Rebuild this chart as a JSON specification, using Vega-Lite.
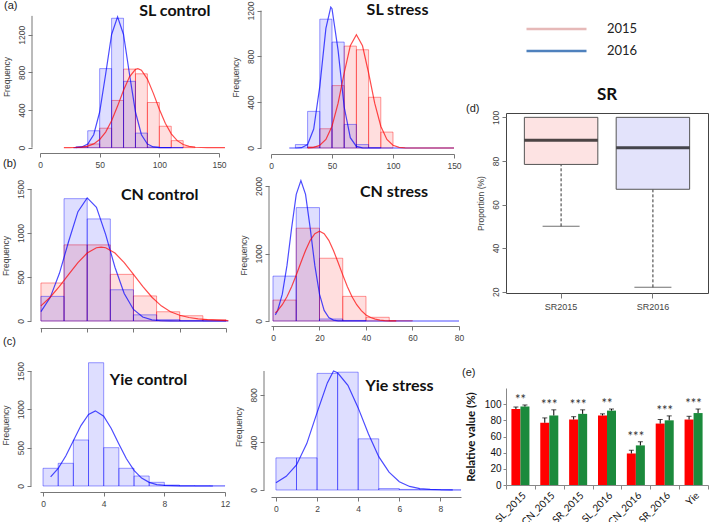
{
"$schema": "https://vega.github.io/schema/vega-lite/v6.json",
"padding": {"left": 0, "top": 0, "right": 0, "bottom": 0},
"background": "white",
"config": {
 "numberFormat": "d",
 "view": {"stroke": null},
 "axis": {"grid": false, "domainColor": "#777", "tickColor": "#777", "labelColor": "#444", "labelFont": "Liberation Sans", "labelFontSize": 8.5, "titleFont": "Liberation Sans", "titleFontSize": 8.5, "titleFontWeight": "normal", "titleColor": "#444", "tickSize": 4, "labelFlush": false, "labelOverlap": false},
 "axisX": {"labelPadding": 3},
 "axisY": {"domain": false, "labelPadding": 2, "titlePadding": 6},
 "title": {"font": "Liberation Sans", "fontSize": 11, "fontWeight": "normal", "color": "#222", "anchor": "start", "frame": "group", "baseline": "alphabetic"},
 "text": {"font": "Lato", "fontWeight": "bold", "fontSize": 16, "color": "#111", "align": "center", "baseline": "middle"},
 "rule": {"color": "#777"}
},
"datasets": {
 "hist": [
  {"p":"A1","yr":"2015","x0":30,"x1":40,"n":5},{"p":"A1","yr":"2015","x0":40,"x1":50,"n":40},{"p":"A1","yr":"2015","x0":50,"x1":60,"n":207},{"p":"A1","yr":"2015","x0":60,"x1":70,"n":502},{"p":"A1","yr":"2015","x0":70,"x1":80,"n":835},{"p":"A1","yr":"2015","x0":80,"x1":90,"n":785},{"p":"A1","yr":"2015","x0":90,"x1":100,"n":480},{"p":"A1","yr":"2015","x0":100,"x1":110,"n":228},{"p":"A1","yr":"2015","x0":110,"x1":120,"n":75},{"p":"A1","yr":"2015","x0":120,"x1":130,"n":8},
  {"p":"A1","yr":"2016","x0":30,"x1":40,"n":10},{"p":"A1","yr":"2016","x0":40,"x1":50,"n":180},{"p":"A1","yr":"2016","x0":50,"x1":60,"n":840},{"p":"A1","yr":"2016","x0":60,"x1":70,"n":1375},{"p":"A1","yr":"2016","x0":70,"x1":80,"n":705},{"p":"A1","yr":"2016","x0":80,"x1":90,"n":155},{"p":"A1","yr":"2016","x0":90,"x1":100,"n":8},{"p":"A1","yr":"2016","x0":100,"x1":110,"n":2},
  {"p":"A2","yr":"2015","x0":30,"x1":40,"n":10},{"p":"A2","yr":"2015","x0":40,"x1":50,"n":168},{"p":"A2","yr":"2015","x0":50,"x1":60,"n":545},{"p":"A2","yr":"2015","x0":60,"x1":70,"n":890},{"p":"A2","yr":"2015","x0":70,"x1":80,"n":858},{"p":"A2","yr":"2015","x0":80,"x1":90,"n":443},{"p":"A2","yr":"2015","x0":90,"x1":100,"n":139},
  {"p":"A2","yr":"2016","x0":20,"x1":30,"n":30},{"p":"A2","yr":"2016","x0":30,"x1":40,"n":320},{"p":"A2","yr":"2016","x0":40,"x1":50,"n":1125},{"p":"A2","yr":"2016","x0":50,"x1":60,"n":925},{"p":"A2","yr":"2016","x0":60,"x1":70,"n":206},{"p":"A2","yr":"2016","x0":70,"x1":80,"n":30},{"p":"A2","yr":"2016","x0":80,"x1":90,"n":3},
  {"p":"B1","yr":"2015","x0":0,"x1":5,"n":432},{"p":"B1","yr":"2015","x0":5,"x1":10,"n":865},{"p":"B1","yr":"2015","x0":10,"x1":15,"n":865},{"p":"B1","yr":"2015","x0":15,"x1":20,"n":530},{"p":"B1","yr":"2015","x0":20,"x1":25,"n":285},{"p":"B1","yr":"2015","x0":25,"x1":30,"n":105},{"p":"B1","yr":"2015","x0":30,"x1":35,"n":60},{"p":"B1","yr":"2015","x0":35,"x1":40,"n":15},
  {"p":"B1","yr":"2016","x0":0,"x1":5,"n":280},{"p":"B1","yr":"2016","x0":5,"x1":10,"n":1390},{"p":"B1","yr":"2016","x0":10,"x1":15,"n":1160},{"p":"B1","yr":"2016","x0":15,"x1":20,"n":355},{"p":"B1","yr":"2016","x0":20,"x1":25,"n":70},{"p":"B1","yr":"2016","x0":25,"x1":30,"n":15},{"p":"B1","yr":"2016","x0":30,"x1":35,"n":5},{"p":"B1","yr":"2016","x0":35,"x1":40,"n":2},
  {"p":"B2","yr":"2015","x0":0,"x1":10,"n":310},{"p":"B2","yr":"2015","x0":10,"x1":20,"n":1375},{"p":"B2","yr":"2015","x0":20,"x1":30,"n":930},{"p":"B2","yr":"2015","x0":30,"x1":40,"n":365},{"p":"B2","yr":"2015","x0":40,"x1":50,"n":55},{"p":"B2","yr":"2015","x0":50,"x1":60,"n":5},
  {"p":"B2","yr":"2016","x0":0,"x1":10,"n":665},{"p":"B2","yr":"2016","x0":10,"x1":20,"n":1680},{"p":"B2","yr":"2016","x0":20,"x1":30,"n":30},{"p":"B2","yr":"2016","x0":30,"x1":40,"n":8},
  {"p":"C1","yr":"2016","x0":0,"x1":1,"n":231},{"p":"C1","yr":"2016","x0":1,"x1":2,"n":296},{"p":"C1","yr":"2016","x0":2,"x1":3,"n":600},{"p":"C1","yr":"2016","x0":3,"x1":4,"n":1608},{"p":"C1","yr":"2016","x0":4,"x1":5,"n":500},{"p":"C1","yr":"2016","x0":5,"x1":6,"n":231},{"p":"C1","yr":"2016","x0":6,"x1":7,"n":130},{"p":"C1","yr":"2016","x0":7,"x1":8,"n":48},{"p":"C1","yr":"2016","x0":8,"x1":9,"n":12},{"p":"C1","yr":"2016","x0":9,"x1":10,"n":5},{"p":"C1","yr":"2016","x0":10,"x1":11,"n":3},{"p":"C1","yr":"2016","x0":11,"x1":12,"n":2},
  {"p":"C2","yr":"2016","x0":0,"x1":1,"n":270},{"p":"C2","yr":"2016","x0":1,"x1":2,"n":270},{"p":"C2","yr":"2016","x0":2,"x1":3,"n":980},{"p":"C2","yr":"2016","x0":3,"x1":4,"n":990},{"p":"C2","yr":"2016","x0":4,"x1":5,"n":430},{"p":"C2","yr":"2016","x0":5,"x1":6,"n":12},{"p":"C2","yr":"2016","x0":6,"x1":7,"n":5},{"p":"C2","yr":"2016","x0":7,"x1":8,"n":3},{"p":"C2","yr":"2016","x0":8,"x1":9,"n":1}
 ],
 "curves": [
  {"p":"A1","yr":"2016","x":28,"y":0},{"p":"A1","yr":"2016","x":30,"y":1},{"p":"A1","yr":"2016","x":35,"y":8},{"p":"A1","yr":"2016","x":40,"y":38},{"p":"A1","yr":"2016","x":45,"y":138},{"p":"A1","yr":"2016","x":50,"y":379},{"p":"A1","yr":"2016","x":55,"y":780},{"p":"A1","yr":"2016","x":60,"y":1203},{"p":"A1","yr":"2016","x":65,"y":1390},{"p":"A1","yr":"2016","x":70,"y":1203},{"p":"A1","yr":"2016","x":75,"y":780},{"p":"A1","yr":"2016","x":80,"y":379},{"p":"A1","yr":"2016","x":85,"y":138},{"p":"A1","yr":"2016","x":90,"y":38},{"p":"A1","yr":"2016","x":95,"y":8},{"p":"A1","yr":"2016","x":100,"y":1},{"p":"A1","yr":"2016","x":110,"y":0},{"p":"A1","yr":"2016","x":120,"y":0},
  {"p":"A1","yr":"2015","x":20,"y":0},{"p":"A1","yr":"2015","x":25,"y":1},{"p":"A1","yr":"2015","x":30,"y":2},{"p":"A1","yr":"2015","x":35,"y":6},{"p":"A1","yr":"2015","x":40,"y":17},{"p":"A1","yr":"2015","x":45,"y":40},{"p":"A1","yr":"2015","x":50,"y":86},{"p":"A1","yr":"2015","x":55,"y":166},{"p":"A1","yr":"2015","x":60,"y":286},{"p":"A1","yr":"2015","x":65,"y":442},{"p":"A1","yr":"2015","x":70,"y":610},{"p":"A1","yr":"2015","x":75,"y":753},{"p":"A1","yr":"2015","x":80,"y":832},{"p":"A1","yr":"2015","x":82,"y":840},{"p":"A1","yr":"2015","x":85,"y":823},{"p":"A1","yr":"2015","x":90,"y":729},{"p":"A1","yr":"2015","x":95,"y":577},{"p":"A1","yr":"2015","x":100,"y":409},{"p":"A1","yr":"2015","x":105,"y":259},{"p":"A1","yr":"2015","x":110,"y":147},{"p":"A1","yr":"2015","x":115,"y":75},{"p":"A1","yr":"2015","x":120,"y":34},{"p":"A1","yr":"2015","x":125,"y":14},{"p":"A1","yr":"2015","x":130,"y":5},{"p":"A1","yr":"2015","x":135,"y":2},{"p":"A1","yr":"2015","x":140,"y":0},{"p":"A1","yr":"2015","x":155,"y":0},
  {"p":"A2","yr":"2016","x":15,"y":0},{"p":"A2","yr":"2016","x":20,"y":0},{"p":"A2","yr":"2016","x":25,"y":3},{"p":"A2","yr":"2016","x":30,"y":31},{"p":"A2","yr":"2016","x":35,"y":166},{"p":"A2","yr":"2016","x":40,"y":538},{"p":"A2","yr":"2016","x":45,"y":1045},{"p":"A2","yr":"2016","x":49,"y":1230},{"p":"A2","yr":"2016","x":50,"y":1217},{"p":"A2","yr":"2016","x":55,"y":852},{"p":"A2","yr":"2016","x":60,"y":358},{"p":"A2","yr":"2016","x":65,"y":90},{"p":"A2","yr":"2016","x":70,"y":14},{"p":"A2","yr":"2016","x":75,"y":1},{"p":"A2","yr":"2016","x":80,"y":0},{"p":"A2","yr":"2016","x":150,"y":0},
  {"p":"A2","yr":"2015","x":30,"y":1},{"p":"A2","yr":"2015","x":35,"y":6},{"p":"A2","yr":"2015","x":40,"y":24},{"p":"A2","yr":"2015","x":45,"y":75},{"p":"A2","yr":"2015","x":50,"y":190},{"p":"A2","yr":"2015","x":55,"y":391},{"p":"A2","yr":"2015","x":60,"y":655},{"p":"A2","yr":"2015","x":65,"y":893},{"p":"A2","yr":"2015","x":70,"y":990},{"p":"A2","yr":"2015","x":75,"y":893},{"p":"A2","yr":"2015","x":80,"y":655},{"p":"A2","yr":"2015","x":85,"y":391},{"p":"A2","yr":"2015","x":90,"y":190},{"p":"A2","yr":"2015","x":95,"y":75},{"p":"A2","yr":"2015","x":100,"y":24},{"p":"A2","yr":"2015","x":105,"y":6},{"p":"A2","yr":"2015","x":110,"y":1},{"p":"A2","yr":"2015","x":120,"y":0},{"p":"A2","yr":"2015","x":150,"y":0},
  {"p":"B1","yr":"2016","x":0,"y":107},{"p":"B1","yr":"2016","x":2,"y":266},{"p":"B1","yr":"2016","x":4,"y":542},{"p":"B1","yr":"2016","x":6,"y":906},{"p":"B1","yr":"2016","x":8,"y":1242},{"p":"B1","yr":"2016","x":10,"y":1399},{"p":"B1","yr":"2016","x":12,"y":1292},{"p":"B1","yr":"2016","x":14,"y":981},{"p":"B1","yr":"2016","x":16,"y":611},{"p":"B1","yr":"2016","x":18,"y":312},{"p":"B1","yr":"2016","x":20,"y":131},{"p":"B1","yr":"2016","x":22,"y":45},{"p":"B1","yr":"2016","x":24,"y":13},{"p":"B1","yr":"2016","x":26,"y":3},{"p":"B1","yr":"2016","x":28,"y":1},{"p":"B1","yr":"2016","x":30,"y":0},{"p":"B1","yr":"2016","x":40.5,"y":0},
  {"p":"B1","yr":"2015","x":0,"y":172},{"p":"B1","yr":"2015","x":2,"y":270},{"p":"B1","yr":"2015","x":4,"y":393},{"p":"B1","yr":"2015","x":6,"y":530},{"p":"B1","yr":"2015","x":8,"y":664},{"p":"B1","yr":"2015","x":10,"y":772},{"p":"B1","yr":"2015","x":12,"y":832},{"p":"B1","yr":"2015","x":13,"y":840},{"p":"B1","yr":"2015","x":14,"y":832},{"p":"B1","yr":"2015","x":16,"y":772},{"p":"B1","yr":"2015","x":18,"y":664},{"p":"B1","yr":"2015","x":20,"y":530},{"p":"B1","yr":"2015","x":22,"y":393},{"p":"B1","yr":"2015","x":24,"y":270},{"p":"B1","yr":"2015","x":26,"y":172},{"p":"B1","yr":"2015","x":28,"y":105},{"p":"B1","yr":"2015","x":30,"y":65},{"p":"B1","yr":"2015","x":32,"y":40},{"p":"B1","yr":"2015","x":34,"y":25},{"p":"B1","yr":"2015","x":36,"y":15},{"p":"B1","yr":"2015","x":38,"y":9},{"p":"B1","yr":"2015","x":40.5,"y":4},
  {"p":"B2","yr":"2016","x":1,"y":91},{"p":"B2","yr":"2016","x":2,"y":157},{"p":"B2","yr":"2016","x":4,"y":398},{"p":"B2","yr":"2016","x":6,"y":820},{"p":"B2","yr":"2016","x":8,"y":1376},{"p":"B2","yr":"2016","x":10,"y":1876},{"p":"B2","yr":"2016","x":12,"y":2080},{"p":"B2","yr":"2016","x":14,"y":1876},{"p":"B2","yr":"2016","x":16,"y":1376},{"p":"B2","yr":"2016","x":18,"y":820},{"p":"B2","yr":"2016","x":20,"y":398},{"p":"B2","yr":"2016","x":22,"y":157},{"p":"B2","yr":"2016","x":24,"y":50},{"p":"B2","yr":"2016","x":26,"y":13},{"p":"B2","yr":"2016","x":28,"y":3},{"p":"B2","yr":"2016","x":30,"y":1},{"p":"B2","yr":"2016","x":35,"y":0},{"p":"B2","yr":"2016","x":80,"y":0},
  {"p":"B2","yr":"2015","x":1,"y":120},{"p":"B2","yr":"2015","x":2,"y":153},{"p":"B2","yr":"2015","x":4,"y":241},{"p":"B2","yr":"2015","x":6,"y":360},{"p":"B2","yr":"2015","x":8,"y":509},{"p":"B2","yr":"2015","x":10,"y":683},{"p":"B2","yr":"2015","x":12,"y":868},{"p":"B2","yr":"2015","x":14,"y":1046},{"p":"B2","yr":"2015","x":16,"y":1195},{"p":"B2","yr":"2015","x":18,"y":1295},{"p":"B2","yr":"2015","x":20,"y":1330},{"p":"B2","yr":"2015","x":22,"y":1295},{"p":"B2","yr":"2015","x":24,"y":1195},{"p":"B2","yr":"2015","x":26,"y":1046},{"p":"B2","yr":"2015","x":28,"y":868},{"p":"B2","yr":"2015","x":30,"y":683},{"p":"B2","yr":"2015","x":32,"y":509},{"p":"B2","yr":"2015","x":34,"y":360},{"p":"B2","yr":"2015","x":36,"y":241},{"p":"B2","yr":"2015","x":38,"y":153},{"p":"B2","yr":"2015","x":40,"y":90},{"p":"B2","yr":"2015","x":42,"y":52},{"p":"B2","yr":"2015","x":44,"y":28},{"p":"B2","yr":"2015","x":46,"y":14},{"p":"B2","yr":"2015","x":48,"y":7},{"p":"B2","yr":"2015","x":50,"y":3},{"p":"B2","yr":"2015","x":53,"y":1},
  {"p":"C1","yr":"2016","x":0.5,"y":120},{"p":"C1","yr":"2016","x":1,"y":230},{"p":"C1","yr":"2016","x":1.5,"y":391},{"p":"C1","yr":"2016","x":2,"y":590},{"p":"C1","yr":"2016","x":2.5,"y":788},{"p":"C1","yr":"2016","x":3,"y":933},{"p":"C1","yr":"2016","x":3.45,"y":980},{"p":"C1","yr":"2016","x":4,"y":911},{"p":"C1","yr":"2016","x":4.5,"y":751},{"p":"C1","yr":"2016","x":5,"y":549},{"p":"C1","yr":"2016","x":5.5,"y":355},{"p":"C1","yr":"2016","x":6,"y":204},{"p":"C1","yr":"2016","x":6.5,"y":103},{"p":"C1","yr":"2016","x":7,"y":47},{"p":"C1","yr":"2016","x":7.5,"y":19},{"p":"C1","yr":"2016","x":8,"y":7},{"p":"C1","yr":"2016","x":9,"y":1},{"p":"C1","yr":"2016","x":10,"y":0},{"p":"C1","yr":"2016","x":11.2,"y":0},
  {"p":"C2","yr":"2016","x":0,"y":60},{"p":"C2","yr":"2016","x":0.5,"y":115},{"p":"C2","yr":"2016","x":1,"y":210},{"p":"C2","yr":"2016","x":1.5,"y":390},{"p":"C2","yr":"2016","x":2,"y":650},{"p":"C2","yr":"2016","x":2.5,"y":900},{"p":"C2","yr":"2016","x":2.8,"y":1000},{"p":"C2","yr":"2016","x":3,"y":985},{"p":"C2","yr":"2016","x":3.5,"y":880},{"p":"C2","yr":"2016","x":4,"y":690},{"p":"C2","yr":"2016","x":4.5,"y":470},{"p":"C2","yr":"2016","x":5,"y":280},{"p":"C2","yr":"2016","x":5.5,"y":150},{"p":"C2","yr":"2016","x":6,"y":70},{"p":"C2","yr":"2016","x":6.5,"y":30},{"p":"C2","yr":"2016","x":7,"y":12},{"p":"C2","yr":"2016","x":7.5,"y":5},{"p":"C2","yr":"2016","x":8,"y":2},{"p":"C2","yr":"2016","x":8.6,"y":1}
 ],
 "box": [
  {"g":"SR2015","lo":50,"q1":78.4,"med":89.5,"q3":100,"hi":100},
  {"g":"SR2016","lo":22,"q1":67,"med":86,"q3":100,"hi":100}
 ],
 "rel": [
  {"cat":"SL_2015","s":"1","v":94,"hi":96.5},{"cat":"SL_2015","s":"2","v":97,"hi":99,"lab":"**","top":99},
  {"cat":"CN_2015","s":"1","v":77,"hi":83},{"cat":"CN_2015","s":"2","v":86,"hi":93,"lab":"***","top":93},
  {"cat":"SR_2015","s":"1","v":81,"hi":84.5},{"cat":"SR_2015","s":"2","v":88,"hi":93,"lab":"***","top":93},
  {"cat":"SL_2016","s":"1","v":86,"hi":88},{"cat":"SL_2016","s":"2","v":92,"hi":94,"lab":"**","top":94},
  {"cat":"CN_2016","s":"1","v":39,"hi":43},{"cat":"CN_2016","s":"2","v":49,"hi":53.5,"lab":"***","top":53.5},
  {"cat":"SR_2016","s":"1","v":76,"hi":81},{"cat":"SR_2016","s":"2","v":80,"hi":85.5,"lab":"***","top":85.5},
  {"cat":"Yie","s":"1","v":81,"hi":85},{"cat":"Yie","s":"2","v":89,"hi":94,"lab":"***","top":94}
 ]
},
"resolve": {"scale": {"fill": "independent", "stroke": "independent", "color": "independent"}},
"spacing": 0,
"hconcat": [
 {"vconcat": [
  {"width": 179, "height": 153, "title": {"text": "(a)", "dx": -36, "offset": -11},
   "layer": [
    {"data": {"name": "hist"}, "transform": [{"filter": "datum.p == 'A1'"}],
     "mark": {"type": "rect", "fillOpacity": 0.13, "strokeOpacity": 0.4, "strokeWidth": 1},
     "encoding": {
      "x": {"field": "x0", "type": "quantitative", "scale": {"domain": [0, 150], "nice": false, "zero": false}, "axis": {"title": null, "values": [0, 50, 100, 150]}},
      "x2": {"field": "x1"},
      "y": {"field": "n", "type": "quantitative", "scale": {"domain": [-56.3, 1568.9], "nice": false, "zero": false}, "axis": {"title": "Frequency", "values": [0, 200, 400, 600, 800, 1000, 1200, 1400], "labelExpr": "datum.value == 1000 || datum.value == 1400 ? '' : datum.label", "offset": 8, "labelAngle": -90, "labelAlign": "center", "labelBaseline": "bottom"}},
      "y2": {"datum": 0},
      "fill": {"field": "yr", "type": "nominal", "scale": {"domain": ["2015", "2016"], "range": ["#ff0000", "#0000ff"]}, "legend": null},
      "stroke": {"field": "yr", "type": "nominal", "scale": {"domain": ["2015", "2016"], "range": ["#ff0000", "#0000ff"]}, "legend": null}
     }},
    {"data": {"name": "curves"}, "transform": [{"filter": "datum.p == 'A1'"}],
     "mark": {"type": "line", "strokeWidth": 1.2, "strokeOpacity": 0.7},
     "encoding": {"x": {"field": "x", "type": "quantitative"}, "y": {"field": "y", "type": "quantitative"}, "stroke": {"field": "yr", "type": "nominal", "legend": null}}},
    {"data": {"values": [{}]}, "mark": {"type": "text", "text": "SL control"}, "encoding": {"x": {"datum": 113}, "y": {"datum": 1447}}},
    {"data": {"values": [{}]}, "mark": {"type": "rule"}, "encoding": {"x": {"datum": -6.7}, "y": {"datum": 0}, "y2": {"datum": 1400}}}
   ]},
  {"width": 186, "height": 145, "title": {"text": "(b)", "dx": -37, "offset": 11},
   "layer": [
    {"data": {"name": "hist"}, "transform": [{"filter": "datum.p == 'B1'"}],
     "mark": {"type": "rect", "fillOpacity": 0.13, "strokeOpacity": 0.4, "strokeWidth": 1},
     "encoding": {
      "x": {"field": "x0", "type": "quantitative", "scale": {"domain": [-0.2, 40], "nice": false, "zero": false}, "axis": {"title": null, "values": [0, 10, 20, 30, 40], "labels": false}},
      "x2": {"field": "x1"},
      "y": {"field": "n", "type": "quantitative", "scale": {"domain": [-79.5, 1568], "nice": false, "zero": false}, "axis": {"title": "Frequency", "values": [0, 500, 1000, 1500], "offset": 9, "labelAngle": -90, "labelAlign": "center", "labelBaseline": "bottom"}},
      "y2": {"datum": 0},
      "fill": {"field": "yr", "type": "nominal", "scale": {"domain": ["2015", "2016"], "range": ["#ff0000", "#0000ff"]}, "legend": null},
      "stroke": {"field": "yr", "type": "nominal", "scale": {"domain": ["2015", "2016"], "range": ["#ff0000", "#0000ff"]}, "legend": null}
     }},
    {"data": {"name": "curves"}, "transform": [{"filter": "datum.p == 'B1'"}],
     "mark": {"type": "line", "strokeWidth": 1.2, "strokeOpacity": 0.7},
     "encoding": {"x": {"field": "x", "type": "quantitative"}, "y": {"field": "y", "type": "quantitative"}, "stroke": {"field": "yr", "type": "nominal", "legend": null}}},
    {"data": {"values": [{}]}, "mark": {"type": "text", "text": "CN control"}, "encoding": {"x": {"datum": 25.67}, "y": {"datum": 1432}}},
    {"data": {"values": [{}]}, "mark": {"type": "rule"}, "encoding": {"x": {"datum": -2.145}, "y": {"datum": 0}, "y2": {"datum": 1500}}}
   ]},
  {"width": 185, "height": 134, "title": {"text": "(c)", "dx": -37, "offset": 11},
   "layer": [
    {"data": {"name": "hist"}, "transform": [{"filter": "datum.p == 'C1'"}],
     "mark": {"type": "rect", "fillOpacity": 0.13, "strokeOpacity": 0.4, "strokeWidth": 1},
     "encoding": {
      "x": {"field": "x0", "type": "quantitative", "scale": {"domain": [-0.2, 12], "nice": false, "zero": false}, "axis": {"title": null, "values": [0, 2, 4, 6, 8, 10, 12]}},
      "x2": {"field": "x1"},
      "y": {"field": "n", "type": "quantitative", "scale": {"domain": [-78.3, 1669.6], "nice": false, "zero": false}, "axis": {"title": "Frequency", "values": [0, 500, 1000, 1500], "offset": 9, "labelAngle": -90, "labelAlign": "center", "labelBaseline": "bottom"}},
      "y2": {"datum": 0},
      "fill": {"field": "yr", "type": "nominal", "scale": {"domain": ["2015", "2016"], "range": ["#ff0000", "#0000ff"]}, "legend": null},
      "stroke": {"field": "yr", "type": "nominal", "scale": {"domain": ["2015", "2016"], "range": ["#ff0000", "#0000ff"]}, "legend": null}
     }},
    {"data": {"name": "curves"}, "transform": [{"filter": "datum.p == 'C1'"}],
     "mark": {"type": "line", "strokeWidth": 1.2, "strokeOpacity": 0.7},
     "encoding": {"x": {"field": "x", "type": "quantitative"}, "y": {"field": "y", "type": "quantitative"}, "stroke": {"field": "yr", "type": "nominal", "legend": null}}},
    {"data": {"values": [{}]}, "mark": {"type": "text", "text": "Yie control"}, "encoding": {"x": {"datum": 6.955}, "y": {"datum": 1383}}},
    {"data": {"values": [{}]}, "mark": {"type": "rule"}, "encoding": {"x": {"datum": -0.794}, "y": {"datum": 0}, "y2": {"datum": 1500}}}
   ]}
 ], "spacing": 30, "bounds": "flush"},
 {"hconcat": [
  {"vconcat": [
   {"width": 183, "height": 154,
    "layer": [
     {"data": {"name": "hist"}, "transform": [{"filter": "datum.p == 'A2'"}],
      "mark": {"type": "rect", "fillOpacity": 0.13, "strokeOpacity": 0.4, "strokeWidth": 1},
      "encoding": {
       "x": {"field": "x0", "type": "quantitative", "scale": {"domain": [0, 150], "nice": false, "zero": false}, "axis": {"title": null, "values": [0, 50, 100, 150]}},
       "x2": {"field": "x1"},
       "y": {"field": "n", "type": "quantitative", "scale": {"domain": [-52.4, 1292.6], "nice": false, "zero": false}, "axis": {"title": "Frequency", "values": [0, 200, 400, 600, 800, 1000, 1200], "labelExpr": "datum.value == 1000 ? '' : datum.label", "offset": 10, "labelAngle": -90, "labelAlign": "center", "labelBaseline": "bottom"}},
       "y2": {"datum": 0},
       "fill": {"field": "yr", "type": "nominal", "scale": {"domain": ["2015", "2016"], "range": ["#ff0000", "#0000ff"]}, "legend": null},
       "stroke": {"field": "yr", "type": "nominal", "scale": {"domain": ["2015", "2016"], "range": ["#ff0000", "#0000ff"]}, "legend": null}
      }},
     {"data": {"name": "curves"}, "transform": [{"filter": "datum.p == 'A2'"}],
      "mark": {"type": "line", "strokeWidth": 1.2, "strokeOpacity": 0.7},
      "encoding": {"x": {"field": "x", "type": "quantitative"}, "y": {"field": "y", "type": "quantitative"}, "stroke": {"field": "yr", "type": "nominal", "legend": null}}},
     {"data": {"values": [{}]}, "mark": {"type": "text", "text": "SL stress"}, "encoding": {"x": {"datum": 103.7}, "y": {"datum": 1201}}},
     {"data": {"values": [{}]}, "mark": {"type": "rule"}, "encoding": {"x": {"datum": -8.2}, "y": {"datum": 0}, "y2": {"datum": 1200}}}
    ]},
   {"width": 188, "height": 142,
    "layer": [
     {"data": {"name": "hist"}, "transform": [{"filter": "datum.p == 'B2'"}],
      "mark": {"type": "rect", "fillOpacity": 0.13, "strokeOpacity": 0.4, "strokeWidth": 1},
      "encoding": {
       "x": {"field": "x0", "type": "quantitative", "scale": {"domain": [-0.86, 80], "nice": false, "zero": false}, "axis": {"title": null, "values": [0, 20, 40, 60, 80]}},
       "x2": {"field": "x1"},
       "y": {"field": "n", "type": "quantitative", "scale": {"domain": [-74, 2030], "nice": false, "zero": false}, "axis": {"title": "Frequency", "values": [0, 500, 1000, 1500, 2000], "offset": 2, "labelAngle": -90, "labelAlign": "center", "labelBaseline": "bottom"}},
       "y2": {"datum": 0},
       "fill": {"field": "yr", "type": "nominal", "scale": {"domain": ["2015", "2016"], "range": ["#ff0000", "#0000ff"]}, "legend": null},
       "stroke": {"field": "yr", "type": "nominal", "scale": {"domain": ["2015", "2016"], "range": ["#ff0000", "#0000ff"]}, "legend": null}
      }},
     {"data": {"name": "curves"}, "transform": [{"filter": "datum.p == 'B2'"}],
      "mark": {"type": "line", "strokeWidth": 1.2, "strokeOpacity": 0.7},
      "encoding": {"x": {"field": "x", "type": "quantitative"}, "y": {"field": "y", "type": "quantitative"}, "stroke": {"field": "yr", "type": "nominal", "legend": null}}},
     {"data": {"values": [{}]}, "mark": {"type": "text", "text": "CN stress"}, "encoding": {"x": {"datum": 52.04}, "y": {"datum": 1911}}},
     {"data": {"values": [{}]}, "mark": {"type": "rule"}, "encoding": {"x": {"datum": -1.72}, "y": {"datum": 0}, "y2": {"datum": 2000}}}
    ]},
   {"width": 190, "height": 141,
    "layer": [
     {"data": {"name": "hist"}, "transform": [{"filter": "datum.p == 'C2'"}],
      "mark": {"type": "rect", "fillOpacity": 0.13, "strokeOpacity": 0.4, "strokeWidth": 1},
      "encoding": {
       "x": {"field": "x0", "type": "quantitative", "scale": {"domain": [-0.24, 9], "nice": false, "zero": false}, "axis": {"title": null, "values": [0, 2, 4, 6, 8]}},
       "x2": {"field": "x1"},
       "y": {"field": "n", "type": "quantitative", "scale": {"domain": [-58.8, 1126], "nice": false, "zero": false}, "axis": {"title": "Frequency", "values": [0, 200, 400, 600, 800, 1000], "offset": 7, "labelAngle": -90, "labelAlign": "center", "labelBaseline": "bottom"}},
       "y2": {"datum": 0},
       "fill": {"field": "yr", "type": "nominal", "scale": {"domain": ["2015", "2016"], "range": ["#ff0000", "#0000ff"]}, "legend": null},
       "stroke": {"field": "yr", "type": "nominal", "scale": {"domain": ["2015", "2016"], "range": ["#ff0000", "#0000ff"]}, "legend": null}
      }},
     {"data": {"name": "curves"}, "transform": [{"filter": "datum.p == 'C2'"}],
      "mark": {"type": "line", "strokeWidth": 1.2, "strokeOpacity": 0.7},
      "encoding": {"x": {"field": "x", "type": "quantitative"}, "y": {"field": "y", "type": "quantitative"}, "stroke": {"field": "yr", "type": "nominal", "legend": null}}},
     {"data": {"values": [{}]}, "mark": {"type": "text", "text": "Yie stress"}, "encoding": {"x": {"datum": 6.01}, "y": {"datum": 878}}},
     {"data": {"values": [{}]}, "mark": {"type": "rule"}, "encoding": {"x": {"datum": -0.58}, "y": {"datum": 0}, "y2": {"datum": 1000}}}
    ]}
  ], "spacing": 30, "bounds": "flush"},
  {"vconcat": [
   {"width": 202, "height": 18,
    "title": {"text": "(d)", "orient": "bottom", "dx": -40, "offset": 45},
    "data": {"values": [{"yr": "2015"}, {"yr": "2016"}]},
    "mark": {"type": "point", "opacity": 0},
    "encoding": {"color": {"field": "yr", "type": "nominal", "scale": {"domain": ["2015", "2016"], "range": ["#e6b9b8", "#4f81bd"]},
      "legend": {"orient": "none", "legendX": 19, "legendY": 23, "title": null, "symbolType": "stroke", "symbolSize": 3600, "symbolStrokeWidth": 2.5, "symbolOpacity": 1, "clipHeight": 12, "rowPadding": 9, "labelOffset": 19, "labelFont": "Lato", "labelFontSize": 13, "labelColor": "#222", "padding": 0}}}
   },
   {"width": 202, "height": 180,
    "view": {"stroke": "#444", "strokeWidth": 1},
    "title": {"text": "SR", "anchor": "middle", "font": "Lato", "fontSize": 17, "fontWeight": "bold", "color": "#111", "offset": 6},
    "data": {"name": "box"},
    "encoding": {"x": {"field": "g", "type": "nominal", "scale": {"paddingInner": 0, "paddingOuter": 0.1}, "axis": {"title": null, "domain": false, "tickSize": 5, "labelPadding": 4, "labelAngle": 0, "labelFontSize": 9}}},
    "layer": [
     {"mark": {"type": "rule", "strokeDash": [3, 2], "color": "#333"},
      "encoding": {"y": {"field": "lo", "type": "quantitative", "scale": {"domain": [19.4, 102], "nice": false, "zero": false}, "axis": {"title": "Proportion (%)", "values": [20, 40, 60, 80, 100], "labelAngle": -90, "labelAlign": "center", "labelBaseline": "bottom"}}, "y2": {"field": "q1"}}},
     {"mark": {"type": "bar", "stroke": "#555", "strokeWidth": 1, "width": {"band": 0.8}},
      "encoding": {"y": {"field": "q1", "type": "quantitative"}, "y2": {"field": "q3"}, "fill": {"field": "g", "type": "nominal", "scale": {"range": ["#fde3e3", "#e3e3fb"]}, "legend": null}}},
     {"mark": {"type": "tick", "color": "#333", "size": 37, "thickness": 1}, "encoding": {"y": {"field": "lo", "type": "quantitative"}}},
     {"mark": {"type": "tick", "color": "#000", "size": 73, "thickness": 3}, "encoding": {"y": {"field": "med", "type": "quantitative"}}}
    ]},
   {"width": 202, "height": 97,
    "title": {"text": "(e)", "dx": -44, "offset": 10},
    "data": {"name": "rel"},
    "encoding": {
     "x": {"field": "cat", "type": "nominal", "scale": {"domain": ["SL_2015", "CN_2015", "SR_2015", "SL_2016", "CN_2016", "SR_2016", "Yie"], "paddingInner": 0, "paddingOuter": 0},
       "axis": {"title": null, "tickBand": "extent", "labelAngle": -45, "labelFont": "Lato", "labelFontSize": 10, "labelColor": "#111", "tickSize": 4, "domainColor": "#888", "tickColor": "#888", "labelPadding": 1}}
    },
    "layer": [
     {"mark": {"type": "bar"},
      "encoding": {
       "xOffset": {"field": "s", "type": "nominal", "scale": {"paddingInner": 0, "paddingOuter": 0.6}},
       "y": {"field": "v", "type": "quantitative", "scale": {"domain": [0, 120], "nice": false},
         "axis": {"title": "Relative value (%)", "values": [0, 20, 40, 60, 80, 100], "domain": true, "labelAngle": 0, "labelAlign": "right", "labelBaseline": "middle", "labelFont": "Liberation Sans", "labelFontSize": 10, "labelColor": "#111", "titleFont": "Lato", "titleFontWeight": "bold", "titleFontSize": 11.5, "titleColor": "#111", "tickSize": 3, "labelPadding": 2, "domainColor": "#888", "tickColor": "#888", "titlePadding": 8}},
       "color": {"field": "s", "type": "nominal", "scale": {"domain": ["1", "2"], "range": ["#ff0000", "#1b8a3c"]}, "legend": null}
      }},
     {"mark": {"type": "rule", "color": "#000"},
      "encoding": {"xOffset": {"field": "s", "type": "nominal"}, "y": {"field": "v", "type": "quantitative",
         "axis": {"title": "Relative value (%)", "values": [0, 20, 40, 60, 80, 100], "domain": true, "labelAngle": 0, "labelAlign": "right", "labelBaseline": "middle", "labelFont": "Liberation Sans", "labelFontSize": 10, "labelColor": "#111", "titleFont": "Lato", "titleFontWeight": "bold", "titleFontSize": 11.5, "titleColor": "#111", "tickSize": 3, "labelPadding": 2, "domainColor": "#888", "tickColor": "#888", "titlePadding": 8}}, "y2": {"field": "hi"}}},
     {"mark": {"type": "tick", "color": "#000", "size": 5, "thickness": 1},
      "encoding": {"xOffset": {"field": "s", "type": "nominal"}, "y": {"field": "hi", "type": "quantitative",
         "axis": {"title": "Relative value (%)", "values": [0, 20, 40, 60, 80, 100], "domain": true, "labelAngle": 0, "labelAlign": "right", "labelBaseline": "middle", "labelFont": "Liberation Sans", "labelFontSize": 10, "labelColor": "#111", "titleFont": "Lato", "titleFontWeight": "bold", "titleFontSize": 11.5, "titleColor": "#111", "tickSize": 3, "labelPadding": 2, "domainColor": "#888", "tickColor": "#888", "titlePadding": 8}}}},
     {"transform": [{"filter": "datum.lab != null"}],
      "mark": {"type": "text", "font": "Lato", "fontWeight": "normal", "fontSize": 13, "color": "#333", "dy": -5},
      "encoding": {"y": {"field": "top", "type": "quantitative",
         "axis": {"title": "Relative value (%)", "values": [0, 20, 40, 60, 80, 100], "domain": true, "labelAngle": 0, "labelAlign": "right", "labelBaseline": "middle", "labelFont": "Liberation Sans", "labelFontSize": 10, "labelColor": "#111", "titleFont": "Lato", "titleFontWeight": "bold", "titleFontSize": 11.5, "titleColor": "#111", "tickSize": 3, "labelPadding": 2, "domainColor": "#888", "tickColor": "#888", "titlePadding": 8}}, "text": {"field": "lab"}}}
    ]}
  ], "spacing": 95, "bounds": "flush", "resolve": {"scale": {"color": "independent"}}}
 ], "spacing": -2, "resolve": {"scale": {"fill": "independent", "stroke": "independent", "color": "independent"}}}
]
}
